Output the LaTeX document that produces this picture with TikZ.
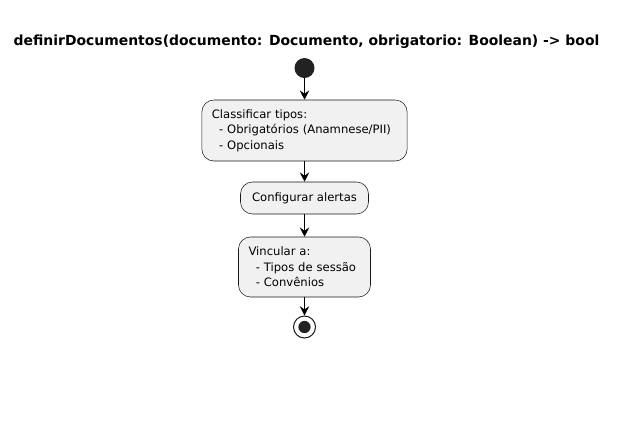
\documentclass[tikz,border=0pt]{standalone}
\usepackage{fontspec}
\setmainfont{DejaVu Sans}
\usetikzlibrary{arrows.meta}
\definecolor{actfill}{HTML}{F1F1F1}
\definecolor{actline}{HTML}{181818}
\definecolor{dotfill}{HTML}{222222}
\tikzset{
  actbox/.style={draw=actline,fill=actfill,line width=0.4pt,rounded corners=9pt,
    align=left,inner xsep=7.5pt,inner ysep=0pt,font=\fontsize{8.7}{11.6}\selectfont},
  flow/.style={-{Stealth[length=7pt,width=7pt,inset=2.5pt]},line width=0.75pt,black}
}
\newcommand{\ind}{\hspace*{5.5pt}}
\begin{document}
\begin{tikzpicture}[x=0.75pt,y=-0.75pt]
\useasboundingbox (0,0) rectangle (636,430);
\node[anchor=base west,font=\fontsize{10.45}{12}\selectfont\bfseries] (title) at (9,45)
  {definirDocumentos(documento: Documento, obrigatorio: Boolean) -> bool};
\node[circle,fill=dotfill,minimum size=15pt,inner sep=0pt] (start) at (304.5,68) {};
\node[actbox,text width=139pt,minimum height=45.75pt] (classif) at (304.5,130.5)
  {Classificar tipos:\\\ind- Obrigatórios (Anamnese/PII)\\\ind- Opcionais};
\node[actbox,minimum width=96pt,minimum height=24pt] (alertas) at (304.5,198)
  {Configurar alertas};
\node[actbox,text width=84pt,minimum height=45pt] (vincular) at (304.5,267)
  {Vincular a:\\\ind- Tipos de sessão\\\ind- Convênios};
\node[circle,draw=actline,line width=0.75pt,fill=white,minimum size=16.5pt,inner sep=0pt] (stop) at (304.5,327) {};
\fill[dotfill] (stop.center) circle (4.6pt);
\draw[flow] (start) -- (classif);
\draw[flow] (classif) -- (alertas);
\draw[flow] (alertas) -- (vincular);
\draw[flow] (vincular) -- (stop);
\end{tikzpicture}
\end{document}
